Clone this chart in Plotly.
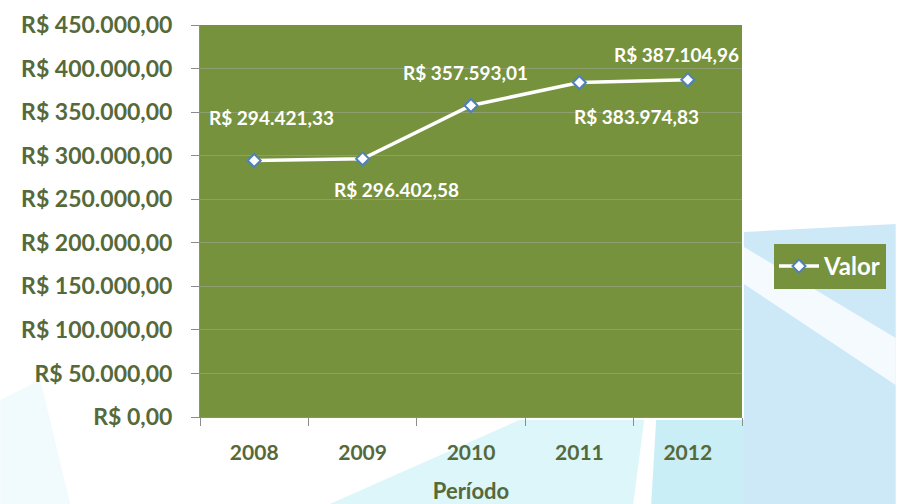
import plotly.graph_objects as go

anos = ["2008", "2009", "2010", "2011", "2012"]
valores = [294421.33, 296402.58, 357593.01, 383974.83, 387104.96]
rotulos = ["R$ 294.421,33", "R$ 296.402,58", "R$ 357.593,01", "R$ 383.974,83", "R$ 387.104,96"]
rot_dx = [17, 34, -6, 57, -11]
rot_dy = [43, -31, 33, -34, 25]
y_ticks = [0, 50000, 100000, 150000, 200000, 250000, 300000, 350000, 400000, 450000]
y_tick_text = ["R$ 0,00", "R$ 50.000,00", "R$ 100.000,00", "R$ 150.000,00", "R$ 200.000,00",
               "R$ 250.000,00", "R$ 300.000,00", "R$ 350.000,00", "R$ 400.000,00", "R$ 450.000,00"]

GREEN = "#76923C"
TXT = "#56693A"
FONT = "Lato"

fig = go.Figure()
fig.add_trace(go.Scatter(
    x=anos, y=valores, mode="lines+markers", name="Valor",
    line=dict(color="white", width=3.5),
    marker=dict(symbol="diamond", size=10, color="white", line=dict(color="#4F81BD", width=2)),
    cliponaxis=False,
))

for i, (v, t, dx, dy) in enumerate(zip(valores, rotulos, rot_dx, rot_dy)):
    fig.add_annotation(x=i, y=v, xref="x", yref="y", text=t, showarrow=False,
                       xshift=dx, yshift=dy,
                       font=dict(family=FONT, size=19, color="white", weight="bold"))

# background decoration (light blue swooshes), paper coords
def px(xp):
    return (xp - 200) / 543.0

def py(yp):
    return (417 - yp) / 392.0

def poly(pts):
    return "M " + " L ".join(f"{px(a):.4f} {py(b):.4f}" for a, b in pts) + " Z"

decor = [
    ([(745, 232), (897, 224), (897, 504), (745, 504)], "#CDE9F8"),
    ([(745, 247), (897, 338), (897, 385), (745, 284)], "#F4FAFD"),
    ([(330, 504), (520, 420), (645, 420), (634, 504)], "#DDF6F9"),
    ([(657, 420), (745, 420), (745, 504), (652, 504)], "#C9EEF6"),
    ([(0, 400), (40, 380), (70, 504), (0, 504)], "#F1FAFC"),
]
for pts, col in decor:
    fig.add_shape(type="path", xref="paper", yref="paper", path=poly(pts),
                  fillcolor=col, line=dict(width=0), layer="below")

fig.update_layout(
    width=897, height=504,
    margin=dict(l=200, r=154, t=25, b=87),
    paper_bgcolor="white",
    plot_bgcolor=GREEN,
    font=dict(family=FONT, color=TXT),
    showlegend=True,
    legend=dict(x=px(774), y=py(244), xanchor="left", yanchor="top",
                bgcolor=GREEN, font=dict(family=FONT, size=24, color="white", weight="bold"),
                itemwidth=40, borderwidth=0),
    xaxis=dict(
        type="category", range=[-0.5, 4.5], tickson="boundaries",
        ticks="outside", ticklen=8, tickcolor="#8C8C8C",
        showline=True, linecolor="#8C8C8C", showgrid=False, automargin=False,
        tickfont=dict(family=FONT, size=21, color=TXT, weight="bold"),
        ticklabelstandoff=17,
        title=dict(text="Período", font=dict(family=FONT, size=22, color=TXT, weight="bold"), standoff=20),
    ),
    yaxis=dict(
        range=[0, 450000], tickvals=y_ticks, ticktext=y_tick_text,
        ticks="outside", ticklen=8, tickcolor="#8C8C8C",
        showline=True, linecolor="#8C8C8C", automargin=False,
        showgrid=True, gridcolor="#8E9E70", gridwidth=1, zeroline=False,
        tickfont=dict(family=FONT, size=23, color=TXT, weight="bold"),
        ticklabelstandoff=14,
    ),
)

fig.write_html("out.html")
